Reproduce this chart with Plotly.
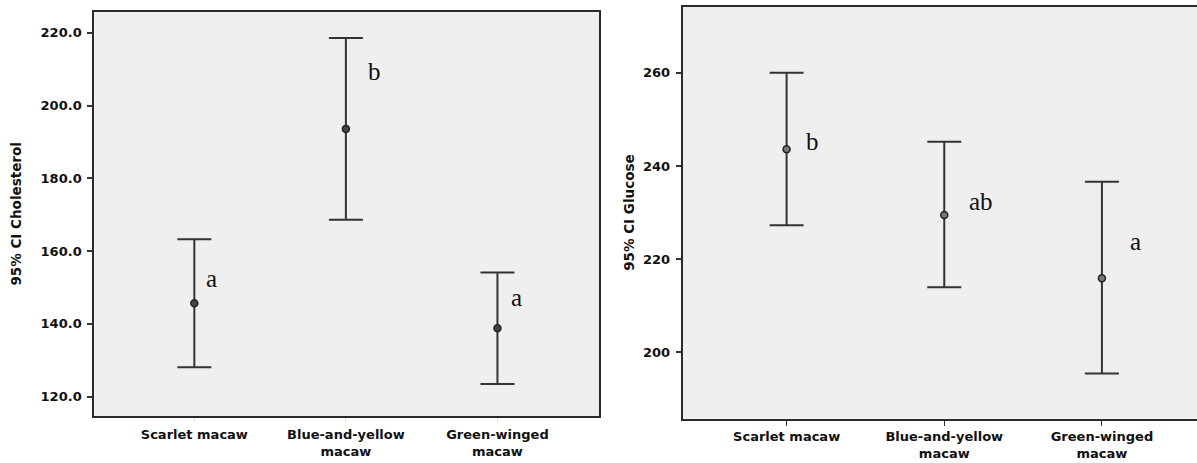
import plotly.graph_objects as go

# ---- data ----
categories = ["Scarlet macaw", "Blue-and-yellow<br>macaw", "Green-winged<br>macaw"]

chol_mean = [145.7, 193.6, 138.8]
chol_upper = [163.3, 218.6, 154.1]
chol_lower = [128.1, 168.6, 123.5]
chol_letters = ["a", "b", "a"]
chol_ticks = [120, 140, 160, 180, 200, 220]

gluc_mean = [243.6, 229.5, 215.9]
gluc_upper = [260.0, 245.2, 236.6]
gluc_lower = [227.3, 214.0, 195.5]
gluc_letters = ["b", "ab", "a"]
gluc_ticks = [200, 220, 240, 260]

W, H = 1197, 463
FONT = dict(family="DejaVu Sans", size=13, color="#111111", weight="bold")
LINE = "#2a2a2a"

fig = go.Figure()

def add_panel(mean, upper, lower, xa, ya, mcolor):
    fig.add_trace(go.Scatter(
        x=categories, y=mean, xaxis=xa, yaxis=ya, mode="markers",
        marker=dict(size=7, color=mcolor, line=dict(color="#222222", width=1.5)),
        error_y=dict(type="data", symmetric=False,
                     array=[u - m for u, m in zip(upper, mean)],
                     arrayminus=[m - l for m, l in zip(mean, lower)],
                     color="#333333", thickness=2, width=17),
        showlegend=False, hoverinfo="skip"))

add_panel(chol_mean, chol_upper, chol_lower, "x", "y", "#444444")
add_panel(gluc_mean, gluc_upper, gluc_lower, "x2", "y2", "#777777")

# significance letters (positions relative to each category)
LETTER_FONT = dict(family="Liberation Serif", size=25, color="#111111", weight="normal")
chol_letter_pos = [(0.116, 152.6), (0.189, 209.3), (0.126, 147.2)]
gluc_letter_pos = [(0.164, 245.3), (0.23, 232.3), (0.21, 223.7)]
for i, (txt, (dx, yy)) in enumerate(zip(chol_letters, chol_letter_pos)):
    fig.add_annotation(x=i + dx, y=yy, xref="x", yref="y", text=txt, showarrow=False,
                       font=LETTER_FONT)
for i, (txt, (dx, yy)) in enumerate(zip(gluc_letters, gluc_letter_pos)):
    fig.add_annotation(x=i + dx, y=yy, xref="x2", yref="y2", text=txt, showarrow=False,
                       font=LETTER_FONT)

def px_x(a, b):
    return [a / W, b / W]

def px_y(top, bottom):
    return [(H - bottom) / H, (H - top) / H]

common_x = dict(type="category", showgrid=False, zeroline=False, showline=True,
                linecolor=LINE, linewidth=2, tickfont=FONT, automargin=False,
                ticks="outside", ticklen=5, tickwidth=1)
common_y = dict(showgrid=False, zeroline=False, showline=True, linecolor=LINE,
                linewidth=2, tickfont=FONT, automargin=False, ticks="outside",
                ticklen=5, tickwidth=1.5, tickcolor="#333333", ticklabelstandoff=3)

fig.update_layout(
    width=W, height=H,
    margin=dict(l=0, r=0, t=0, b=0),
    paper_bgcolor="white",
    plot_bgcolor="#efefef",
    font=FONT,
    xaxis=dict(common_x, domain=px_x(94.3, 599.3), range=[-0.66, 2.672],
               mirror=True, anchor="y", tickcolor="#e4e4e4"),
    yaxis=dict(common_y, domain=px_y(11.7, 416), range=[114.7, 225.8],
               mirror=True, anchor="x", tickvals=chol_ticks, tickformat=".1f",
               title=dict(text="95% CI Cholesterol", font=dict(FONT, size=13.5), standoff=16)),
    xaxis2=dict(common_x, domain=px_x(682.7, 1197), range=[-0.659, 2.603],
                mirror=True, anchor="y2", tickcolor="#333333"),
    yaxis2=dict(common_y, domain=px_y(6.5, 418.7), range=[185.8, 274.2],
                mirror=False, anchor="x2", tickvals=gluc_ticks,
                title=dict(text="95% CI Glucose", font=dict(FONT, size=13.5), standoff=5)),
)

fig.write_html("out.html", config={"displayModeBar": False},
               post_script="document.body.style.margin='0';")
